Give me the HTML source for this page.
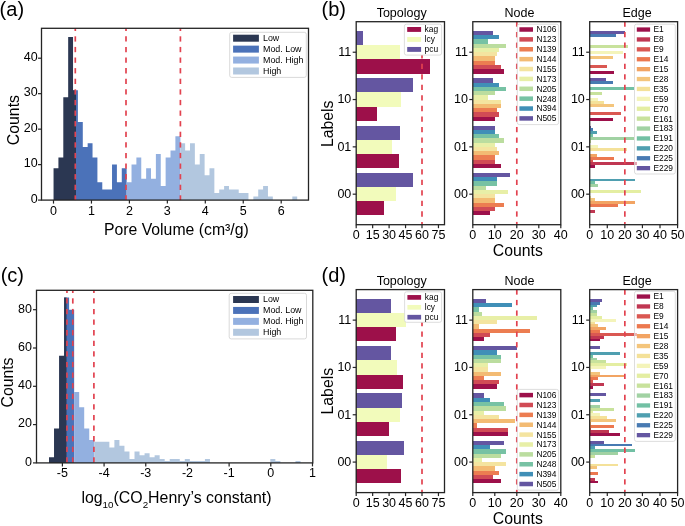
<!DOCTYPE html>
<html><head><meta charset="utf-8"><title>Figure</title>
<style>
html,body{margin:0;padding:0;background:#fff;}
svg{display:block;will-change:transform;filter:blur(0.3px);}
text{font-family:"Liberation Sans", sans-serif;}
</style></head>
<body>
<svg width="685" height="526" viewBox="0 0 685 526" font-family='"Liberation Sans", sans-serif'>
<rect x="0" y="0" width="685" height="526" fill="#fff"/>
<path d="M73.04,200.1 L73.04,90.13 L77.91,90.13 L77.91,122.05 L82.79,122.05 L82.79,146.89 L87.66,146.89 L87.66,143.34 L92.53,143.34 L92.53,157.53 L97.41,157.53 L97.41,182.36 L102.28,182.36 L102.28,189.46 L107.15,189.46 L107.15,189.46 L112.03,189.46 L112.03,164.62 L116.9,164.62 L116.9,182.36 L121.77,182.36 L121.77,168.17 L126.64,168.17 L126.64,200.1 Z" fill="#4b72b9"/>
<path d="M53.55,200.1 L53.55,168.17 L58.42,168.17 L58.42,157.53 L63.3,157.53 L63.3,97.22 L68.17,97.22 L68.17,36.91 L73.04,36.91 L73.04,90.13 L76,90.13 L76,200.1 Z" fill="#2b3752"/>
<path d="M126.64,200.1 L126.64,182.36 L131.52,182.36 L131.52,164.62 L136.39,164.62 L136.39,157.53 L141.26,157.53 L141.26,178.81 L146.14,178.81 L146.14,168.17 L151.01,168.17 L151.01,178.81 L155.88,178.81 L155.88,153.98 L160.76,153.98 L160.76,185.91 L165.63,185.91 L165.63,157.53 L170.5,157.53 L170.5,150.44 L175.38,150.44 L175.38,136.25 L180.4,136.25 L180.4,200.1 Z" fill="#93b0e0"/>
<path d="M180.4,200.1 L180.4,143.34 L185.12,143.34 L185.12,150.44 L189.99,150.44 L189.99,143.34 L194.87,143.34 L194.87,164.62 L199.74,164.62 L199.74,153.98 L204.61,153.98 L204.61,175.27 L209.49,175.27 L209.49,168.17 L214.36,168.17 L214.36,193 L219.23,193 L219.23,189.46 L224.11,189.46 L224.11,185.91 L228.98,185.91 L228.98,189.46 L233.85,189.46 L233.85,189.46 L238.72,189.46 L238.72,193 L243.6,193 L243.6,193 L248.47,193 L248.47,200.1 L253.34,200.1 L253.34,196.55 L258.22,196.55 L258.22,189.46 L263.09,189.46 L263.09,185.91 L267.96,185.91 L267.96,196.55 L272.83,196.55 L272.83,200.1 L277.71,200.1 L277.71,200.1 L282.58,200.1 L282.58,200.1 L287.45,200.1 L287.45,200.1 L292.33,200.1 L292.33,196.55 L297.2,196.55 L297.2,200.1 Z" fill="#b2c7df"/>
<line x1="75.3" y1="28.3" x2="75.3" y2="31" stroke="#e2424f" stroke-width="1.7"/>
<line x1="75.3" y1="36.3" x2="75.3" y2="41.6" stroke="#e2424f" stroke-width="1.7"/>
<line x1="75.3" y1="46.9" x2="75.3" y2="52.2" stroke="#e2424f" stroke-width="1.7"/>
<line x1="75.3" y1="57.5" x2="75.3" y2="62.8" stroke="#e2424f" stroke-width="1.7"/>
<line x1="75.3" y1="68.1" x2="75.3" y2="73.4" stroke="#e2424f" stroke-width="1.7"/>
<line x1="75.3" y1="78.7" x2="75.3" y2="84" stroke="#e2424f" stroke-width="1.7"/>
<line x1="75.3" y1="89.3" x2="75.3" y2="94.6" stroke="#e2424f" stroke-width="1.7"/>
<line x1="75.3" y1="99.9" x2="75.3" y2="105.2" stroke="#e2424f" stroke-width="1.7"/>
<line x1="75.3" y1="110.5" x2="75.3" y2="115.8" stroke="#e2424f" stroke-width="1.7"/>
<line x1="75.3" y1="121.1" x2="75.3" y2="126.4" stroke="#e2424f" stroke-width="1.7"/>
<line x1="75.3" y1="131.7" x2="75.3" y2="137" stroke="#e2424f" stroke-width="1.7"/>
<line x1="75.3" y1="142.3" x2="75.3" y2="147.6" stroke="#e2424f" stroke-width="1.7"/>
<line x1="75.3" y1="152.9" x2="75.3" y2="158.2" stroke="#e2424f" stroke-width="1.7"/>
<line x1="75.3" y1="163.5" x2="75.3" y2="168.8" stroke="#e2424f" stroke-width="1.7"/>
<line x1="75.3" y1="174.1" x2="75.3" y2="179.4" stroke="#e2424f" stroke-width="1.7"/>
<line x1="75.3" y1="184.7" x2="75.3" y2="190" stroke="#e2424f" stroke-width="1.7"/>
<line x1="75.3" y1="195.3" x2="75.3" y2="200.1" stroke="#e2424f" stroke-width="1.7"/>
<line x1="126" y1="28.3" x2="126" y2="31" stroke="#e2424f" stroke-width="1.7"/>
<line x1="126" y1="36.3" x2="126" y2="41.6" stroke="#e2424f" stroke-width="1.7"/>
<line x1="126" y1="46.9" x2="126" y2="52.2" stroke="#e2424f" stroke-width="1.7"/>
<line x1="126" y1="57.5" x2="126" y2="62.8" stroke="#e2424f" stroke-width="1.7"/>
<line x1="126" y1="68.1" x2="126" y2="73.4" stroke="#e2424f" stroke-width="1.7"/>
<line x1="126" y1="78.7" x2="126" y2="84" stroke="#e2424f" stroke-width="1.7"/>
<line x1="126" y1="89.3" x2="126" y2="94.6" stroke="#e2424f" stroke-width="1.7"/>
<line x1="126" y1="99.9" x2="126" y2="105.2" stroke="#e2424f" stroke-width="1.7"/>
<line x1="126" y1="110.5" x2="126" y2="115.8" stroke="#e2424f" stroke-width="1.7"/>
<line x1="126" y1="121.1" x2="126" y2="126.4" stroke="#e2424f" stroke-width="1.7"/>
<line x1="126" y1="131.7" x2="126" y2="137" stroke="#e2424f" stroke-width="1.7"/>
<line x1="126" y1="142.3" x2="126" y2="147.6" stroke="#e2424f" stroke-width="1.7"/>
<line x1="126" y1="152.9" x2="126" y2="158.2" stroke="#e2424f" stroke-width="1.7"/>
<line x1="126" y1="163.5" x2="126" y2="168.8" stroke="#e2424f" stroke-width="1.7"/>
<line x1="126" y1="174.1" x2="126" y2="179.4" stroke="#e2424f" stroke-width="1.7"/>
<line x1="126" y1="184.7" x2="126" y2="190" stroke="#e2424f" stroke-width="1.7"/>
<line x1="126" y1="195.3" x2="126" y2="200.1" stroke="#e2424f" stroke-width="1.7"/>
<line x1="180.4" y1="28.3" x2="180.4" y2="31" stroke="#e2424f" stroke-width="1.7"/>
<line x1="180.4" y1="36.3" x2="180.4" y2="41.6" stroke="#e2424f" stroke-width="1.7"/>
<line x1="180.4" y1="46.9" x2="180.4" y2="52.2" stroke="#e2424f" stroke-width="1.7"/>
<line x1="180.4" y1="57.5" x2="180.4" y2="62.8" stroke="#e2424f" stroke-width="1.7"/>
<line x1="180.4" y1="68.1" x2="180.4" y2="73.4" stroke="#e2424f" stroke-width="1.7"/>
<line x1="180.4" y1="78.7" x2="180.4" y2="84" stroke="#e2424f" stroke-width="1.7"/>
<line x1="180.4" y1="89.3" x2="180.4" y2="94.6" stroke="#e2424f" stroke-width="1.7"/>
<line x1="180.4" y1="99.9" x2="180.4" y2="105.2" stroke="#e2424f" stroke-width="1.7"/>
<line x1="180.4" y1="110.5" x2="180.4" y2="115.8" stroke="#e2424f" stroke-width="1.7"/>
<line x1="180.4" y1="121.1" x2="180.4" y2="126.4" stroke="#e2424f" stroke-width="1.7"/>
<line x1="180.4" y1="131.7" x2="180.4" y2="137" stroke="#e2424f" stroke-width="1.7"/>
<line x1="180.4" y1="142.3" x2="180.4" y2="147.6" stroke="#e2424f" stroke-width="1.7"/>
<line x1="180.4" y1="152.9" x2="180.4" y2="158.2" stroke="#e2424f" stroke-width="1.7"/>
<line x1="180.4" y1="163.5" x2="180.4" y2="168.8" stroke="#e2424f" stroke-width="1.7"/>
<line x1="180.4" y1="174.1" x2="180.4" y2="179.4" stroke="#e2424f" stroke-width="1.7"/>
<line x1="180.4" y1="184.7" x2="180.4" y2="190" stroke="#e2424f" stroke-width="1.7"/>
<line x1="180.4" y1="195.3" x2="180.4" y2="200.1" stroke="#e2424f" stroke-width="1.7"/>
<rect x="41.5" y="28.3" width="267" height="171.8" fill="none" stroke="#242424" stroke-width="1.3"/>
<line x1="53.5" y1="200.1" x2="53.5" y2="203.6" stroke="#242424" stroke-width="1.2"/>
<text x="53.5" y="215" font-size="12.5" text-anchor="middle" fill="#000">0</text>
<line x1="91.45" y1="200.1" x2="91.45" y2="203.6" stroke="#242424" stroke-width="1.2"/>
<text x="91.45" y="215" font-size="12.5" text-anchor="middle" fill="#000">1</text>
<line x1="129.4" y1="200.1" x2="129.4" y2="203.6" stroke="#242424" stroke-width="1.2"/>
<text x="129.4" y="215" font-size="12.5" text-anchor="middle" fill="#000">2</text>
<line x1="167.35" y1="200.1" x2="167.35" y2="203.6" stroke="#242424" stroke-width="1.2"/>
<text x="167.35" y="215" font-size="12.5" text-anchor="middle" fill="#000">3</text>
<line x1="205.3" y1="200.1" x2="205.3" y2="203.6" stroke="#242424" stroke-width="1.2"/>
<text x="205.3" y="215" font-size="12.5" text-anchor="middle" fill="#000">4</text>
<line x1="243.25" y1="200.1" x2="243.25" y2="203.6" stroke="#242424" stroke-width="1.2"/>
<text x="243.25" y="215" font-size="12.5" text-anchor="middle" fill="#000">5</text>
<line x1="281.2" y1="200.1" x2="281.2" y2="203.6" stroke="#242424" stroke-width="1.2"/>
<text x="281.2" y="215" font-size="12.5" text-anchor="middle" fill="#000">6</text>
<line x1="38" y1="200.1" x2="41.5" y2="200.1" stroke="#242424" stroke-width="1.2"/>
<text x="37.6" y="202.9" font-size="12.5" text-anchor="end" fill="#000">0</text>
<line x1="38" y1="164.62" x2="41.5" y2="164.62" stroke="#242424" stroke-width="1.2"/>
<text x="37.6" y="167.43" font-size="12.5" text-anchor="end" fill="#000">10</text>
<line x1="38" y1="129.15" x2="41.5" y2="129.15" stroke="#242424" stroke-width="1.2"/>
<text x="37.6" y="131.95" font-size="12.5" text-anchor="end" fill="#000">20</text>
<line x1="38" y1="93.67" x2="41.5" y2="93.67" stroke="#242424" stroke-width="1.2"/>
<text x="37.6" y="96.47" font-size="12.5" text-anchor="end" fill="#000">30</text>
<line x1="38" y1="58.2" x2="41.5" y2="58.2" stroke="#242424" stroke-width="1.2"/>
<text x="37.6" y="61" font-size="12.5" text-anchor="end" fill="#000">40</text>
<text x="176.35" y="234.6" font-size="15.8" text-anchor="middle" fill="#000">Pore Volume (cm³/g)</text>
<text transform="translate(18.6,120.1) rotate(-90)" font-size="15.8" text-anchor="middle" fill="#000">Counts</text>
<text x="-0.4" y="16.4" font-size="20" text-anchor="start" fill="#000">(a)</text>
<rect x="229.7" y="32.3" width="76.6" height="45.1" rx="2" fill="#fff" fill-opacity="0.8" stroke="#cfcfcf" stroke-width="0.8"/>
<rect x="233.1" y="34.7" width="25.8" height="7" fill="#2b3752"/>
<text x="263" y="41.1" font-size="8.9" text-anchor="start" fill="#000">Low</text>
<rect x="233.1" y="45.63" width="25.8" height="7" fill="#4b72b9"/>
<text x="263" y="52.03" font-size="8.9" text-anchor="start" fill="#000">Mod. Low</text>
<rect x="233.1" y="56.56" width="25.8" height="7" fill="#93b0e0"/>
<text x="263" y="62.96" font-size="8.9" text-anchor="start" fill="#000">Mod. High</text>
<rect x="233.1" y="67.49" width="25.8" height="7" fill="#b2c7df"/>
<text x="263" y="73.89" font-size="8.9" text-anchor="start" fill="#000">High</text>
<path d="M64.09,462.9 L64.09,297.44 L69.12,297.44 L69.12,309.7 L74.15,309.7 L74.15,462.9 Z" fill="#4b72b9"/>
<path d="M49,462.9 L49,457.15 L54.03,457.15 L54.03,428.43 L59.06,428.43 L59.06,355.66 L64.09,355.66 L64.09,297.44 L66.5,297.44 L66.5,462.9 Z" fill="#2b3752"/>
<path d="M74.15,462.9 L74.15,392.04 L79.18,392.04 L79.18,407.36 L84.21,407.36 L84.21,428.43 L89.24,428.43 L89.24,439.92 L94.27,439.92 L94.27,462.9 Z" fill="#93b0e0"/>
<path d="M94.27,462.9 L94.27,441.83 L99.3,441.83 L99.3,441.83 L104.33,441.83 L104.33,441.83 L109.36,441.83 L109.36,447.58 L114.39,447.58 L114.39,439.92 L119.42,439.92 L119.42,445.66 L124.45,445.66 L124.45,451.41 L129.48,451.41 L129.48,459.07 L134.51,459.07 L134.51,451.41 L139.54,451.41 L139.54,455.24 L144.57,455.24 L144.57,453.32 L149.6,453.32 L149.6,457.15 L154.63,457.15 L154.63,455.24 L159.66,455.24 L159.66,459.07 L164.69,459.07 L164.69,460.98 L169.72,460.98 L169.72,459.07 L174.75,459.07 L174.75,459.07 L179.78,459.07 L179.78,460.98 L184.81,460.98 L184.81,459.07 L189.84,459.07 L189.84,460.98 L194.87,460.98 L194.87,460.98 L199.9,460.98 L199.9,460.98 L204.93,460.98 L204.93,459.07 L209.96,459.07 L209.96,462.9 L214.99,462.9 L214.99,462.9 L220.02,462.9 L220.02,462.9 L225.05,462.9 L225.05,462.9 L230.08,462.9 L230.08,462.9 L235.11,462.9 L235.11,462.9 L240.14,462.9 L240.14,462.9 L245.17,462.9 L245.17,462.9 L250.2,462.9 L250.2,462.9 L255.23,462.9 L255.23,462.9 L260.26,462.9 L260.26,462.9 L265.29,462.9 L265.29,462.9 L270.32,462.9 L270.32,459.07 L275.35,459.07 L275.35,460.98 L280.38,460.98 L280.38,462.9 L285.41,462.9 L285.41,462.9 L290.44,462.9 L290.44,462.9 L295.47,462.9 L295.47,460.98 L300.5,460.98 L300.5,462.9 Z" fill="#b2c7df"/>
<line x1="66.95" y1="290.3" x2="66.95" y2="293" stroke="#e2424f" stroke-width="1.7"/>
<line x1="66.95" y1="298.3" x2="66.95" y2="303.6" stroke="#e2424f" stroke-width="1.7"/>
<line x1="66.95" y1="308.9" x2="66.95" y2="314.2" stroke="#e2424f" stroke-width="1.7"/>
<line x1="66.95" y1="319.5" x2="66.95" y2="324.8" stroke="#e2424f" stroke-width="1.7"/>
<line x1="66.95" y1="330.1" x2="66.95" y2="335.4" stroke="#e2424f" stroke-width="1.7"/>
<line x1="66.95" y1="340.7" x2="66.95" y2="346" stroke="#e2424f" stroke-width="1.7"/>
<line x1="66.95" y1="351.3" x2="66.95" y2="356.6" stroke="#e2424f" stroke-width="1.7"/>
<line x1="66.95" y1="361.9" x2="66.95" y2="367.2" stroke="#e2424f" stroke-width="1.7"/>
<line x1="66.95" y1="372.5" x2="66.95" y2="377.8" stroke="#e2424f" stroke-width="1.7"/>
<line x1="66.95" y1="383.1" x2="66.95" y2="388.4" stroke="#e2424f" stroke-width="1.7"/>
<line x1="66.95" y1="393.7" x2="66.95" y2="399" stroke="#e2424f" stroke-width="1.7"/>
<line x1="66.95" y1="404.3" x2="66.95" y2="409.6" stroke="#e2424f" stroke-width="1.7"/>
<line x1="66.95" y1="414.9" x2="66.95" y2="420.2" stroke="#e2424f" stroke-width="1.7"/>
<line x1="66.95" y1="425.5" x2="66.95" y2="430.8" stroke="#e2424f" stroke-width="1.7"/>
<line x1="66.95" y1="436.1" x2="66.95" y2="441.4" stroke="#e2424f" stroke-width="1.7"/>
<line x1="66.95" y1="446.7" x2="66.95" y2="452" stroke="#e2424f" stroke-width="1.7"/>
<line x1="66.95" y1="457.3" x2="66.95" y2="462.6" stroke="#e2424f" stroke-width="1.7"/>
<line x1="72.8" y1="290.3" x2="72.8" y2="293" stroke="#e2424f" stroke-width="1.7"/>
<line x1="72.8" y1="298.3" x2="72.8" y2="303.6" stroke="#e2424f" stroke-width="1.7"/>
<line x1="72.8" y1="308.9" x2="72.8" y2="314.2" stroke="#e2424f" stroke-width="1.7"/>
<line x1="72.8" y1="319.5" x2="72.8" y2="324.8" stroke="#e2424f" stroke-width="1.7"/>
<line x1="72.8" y1="330.1" x2="72.8" y2="335.4" stroke="#e2424f" stroke-width="1.7"/>
<line x1="72.8" y1="340.7" x2="72.8" y2="346" stroke="#e2424f" stroke-width="1.7"/>
<line x1="72.8" y1="351.3" x2="72.8" y2="356.6" stroke="#e2424f" stroke-width="1.7"/>
<line x1="72.8" y1="361.9" x2="72.8" y2="367.2" stroke="#e2424f" stroke-width="1.7"/>
<line x1="72.8" y1="372.5" x2="72.8" y2="377.8" stroke="#e2424f" stroke-width="1.7"/>
<line x1="72.8" y1="383.1" x2="72.8" y2="388.4" stroke="#e2424f" stroke-width="1.7"/>
<line x1="72.8" y1="393.7" x2="72.8" y2="399" stroke="#e2424f" stroke-width="1.7"/>
<line x1="72.8" y1="404.3" x2="72.8" y2="409.6" stroke="#e2424f" stroke-width="1.7"/>
<line x1="72.8" y1="414.9" x2="72.8" y2="420.2" stroke="#e2424f" stroke-width="1.7"/>
<line x1="72.8" y1="425.5" x2="72.8" y2="430.8" stroke="#e2424f" stroke-width="1.7"/>
<line x1="72.8" y1="436.1" x2="72.8" y2="441.4" stroke="#e2424f" stroke-width="1.7"/>
<line x1="72.8" y1="446.7" x2="72.8" y2="452" stroke="#e2424f" stroke-width="1.7"/>
<line x1="72.8" y1="457.3" x2="72.8" y2="462.6" stroke="#e2424f" stroke-width="1.7"/>
<line x1="93.9" y1="290.3" x2="93.9" y2="293" stroke="#e2424f" stroke-width="1.7"/>
<line x1="93.9" y1="298.3" x2="93.9" y2="303.6" stroke="#e2424f" stroke-width="1.7"/>
<line x1="93.9" y1="308.9" x2="93.9" y2="314.2" stroke="#e2424f" stroke-width="1.7"/>
<line x1="93.9" y1="319.5" x2="93.9" y2="324.8" stroke="#e2424f" stroke-width="1.7"/>
<line x1="93.9" y1="330.1" x2="93.9" y2="335.4" stroke="#e2424f" stroke-width="1.7"/>
<line x1="93.9" y1="340.7" x2="93.9" y2="346" stroke="#e2424f" stroke-width="1.7"/>
<line x1="93.9" y1="351.3" x2="93.9" y2="356.6" stroke="#e2424f" stroke-width="1.7"/>
<line x1="93.9" y1="361.9" x2="93.9" y2="367.2" stroke="#e2424f" stroke-width="1.7"/>
<line x1="93.9" y1="372.5" x2="93.9" y2="377.8" stroke="#e2424f" stroke-width="1.7"/>
<line x1="93.9" y1="383.1" x2="93.9" y2="388.4" stroke="#e2424f" stroke-width="1.7"/>
<line x1="93.9" y1="393.7" x2="93.9" y2="399" stroke="#e2424f" stroke-width="1.7"/>
<line x1="93.9" y1="404.3" x2="93.9" y2="409.6" stroke="#e2424f" stroke-width="1.7"/>
<line x1="93.9" y1="414.9" x2="93.9" y2="420.2" stroke="#e2424f" stroke-width="1.7"/>
<line x1="93.9" y1="425.5" x2="93.9" y2="430.8" stroke="#e2424f" stroke-width="1.7"/>
<line x1="93.9" y1="436.1" x2="93.9" y2="441.4" stroke="#e2424f" stroke-width="1.7"/>
<line x1="93.9" y1="446.7" x2="93.9" y2="452" stroke="#e2424f" stroke-width="1.7"/>
<line x1="93.9" y1="457.3" x2="93.9" y2="462.6" stroke="#e2424f" stroke-width="1.7"/>
<rect x="36.5" y="290.3" width="276.3" height="172.6" fill="none" stroke="#242424" stroke-width="1.3"/>
<line x1="62.4" y1="462.9" x2="62.4" y2="466.4" stroke="#242424" stroke-width="1.2"/>
<text x="62.4" y="477" font-size="12.5" text-anchor="middle" fill="#000">-5</text>
<line x1="104.08" y1="462.9" x2="104.08" y2="466.4" stroke="#242424" stroke-width="1.2"/>
<text x="104.08" y="477" font-size="12.5" text-anchor="middle" fill="#000">-4</text>
<line x1="145.76" y1="462.9" x2="145.76" y2="466.4" stroke="#242424" stroke-width="1.2"/>
<text x="145.76" y="477" font-size="12.5" text-anchor="middle" fill="#000">-3</text>
<line x1="187.44" y1="462.9" x2="187.44" y2="466.4" stroke="#242424" stroke-width="1.2"/>
<text x="187.44" y="477" font-size="12.5" text-anchor="middle" fill="#000">-2</text>
<line x1="229.12" y1="462.9" x2="229.12" y2="466.4" stroke="#242424" stroke-width="1.2"/>
<text x="229.12" y="477" font-size="12.5" text-anchor="middle" fill="#000">-1</text>
<line x1="270.8" y1="462.9" x2="270.8" y2="466.4" stroke="#242424" stroke-width="1.2"/>
<text x="270.8" y="477" font-size="12.5" text-anchor="middle" fill="#000">0</text>
<line x1="312.48" y1="462.9" x2="312.48" y2="466.4" stroke="#242424" stroke-width="1.2"/>
<text x="312.48" y="477" font-size="12.5" text-anchor="middle" fill="#000">1</text>
<line x1="33" y1="462.9" x2="36.5" y2="462.9" stroke="#242424" stroke-width="1.2"/>
<text x="31.9" y="465.7" font-size="12.5" text-anchor="end" fill="#000">0</text>
<line x1="33" y1="424.6" x2="36.5" y2="424.6" stroke="#242424" stroke-width="1.2"/>
<text x="31.9" y="427.4" font-size="12.5" text-anchor="end" fill="#000">20</text>
<line x1="33" y1="386.3" x2="36.5" y2="386.3" stroke="#242424" stroke-width="1.2"/>
<text x="31.9" y="389.1" font-size="12.5" text-anchor="end" fill="#000">40</text>
<line x1="33" y1="348" x2="36.5" y2="348" stroke="#242424" stroke-width="1.2"/>
<text x="31.9" y="350.8" font-size="12.5" text-anchor="end" fill="#000">60</text>
<line x1="33" y1="309.7" x2="36.5" y2="309.7" stroke="#242424" stroke-width="1.2"/>
<text x="31.9" y="312.5" font-size="12.5" text-anchor="end" fill="#000">80</text>
<text x="81.4" y="502.9" font-size="15.9" fill="#000">log<tspan font-size="9.8" dy="5">10</tspan><tspan dy="-5">(CO</tspan><tspan font-size="9.8" dy="5">2</tspan><tspan dy="-5">Henry’s constant)</tspan></text>
<text transform="translate(12.8,382.5) rotate(-90)" font-size="15.8" text-anchor="middle" fill="#000">Counts</text>
<text x="0.7" y="281.7" font-size="20" text-anchor="start" fill="#000">(c)</text>
<rect x="229.2" y="293.3" width="77.3" height="45.6" rx="2" fill="#fff" fill-opacity="0.8" stroke="#cfcfcf" stroke-width="0.8"/>
<rect x="233.1" y="296" width="25.8" height="7" fill="#2b3752"/>
<text x="263" y="302.4" font-size="8.9" text-anchor="start" fill="#000">Low</text>
<rect x="233.1" y="306.93" width="25.8" height="7" fill="#4b72b9"/>
<text x="263" y="313.33" font-size="8.9" text-anchor="start" fill="#000">Mod. Low</text>
<rect x="233.1" y="317.86" width="25.8" height="7" fill="#93b0e0"/>
<text x="263" y="324.26" font-size="8.9" text-anchor="start" fill="#000">Mod. High</text>
<rect x="233.1" y="328.79" width="25.8" height="7" fill="#b2c7df"/>
<text x="263" y="335.19" font-size="8.9" text-anchor="start" fill="#000">High</text>
<rect x="356.2" y="201.28" width="27.42" height="14.2" fill="#9d104a" shape-rendering="crispEdges"/>
<rect x="356.2" y="187.08" width="39.48" height="14.2" fill="#f2fbbb" shape-rendering="crispEdges"/>
<rect x="356.2" y="172.89" width="57.03" height="14.2" fill="#6456a1" shape-rendering="crispEdges"/>
<rect x="356.2" y="153.96" width="42.77" height="14.2" fill="#9d104a" shape-rendering="crispEdges"/>
<rect x="356.2" y="139.76" width="36.19" height="14.2" fill="#f2fbbb" shape-rendering="crispEdges"/>
<rect x="356.2" y="125.57" width="43.87" height="14.2" fill="#6456a1" shape-rendering="crispEdges"/>
<rect x="356.2" y="106.64" width="20.84" height="14.2" fill="#9d104a" shape-rendering="crispEdges"/>
<rect x="356.2" y="92.44" width="44.96" height="14.2" fill="#f2fbbb" shape-rendering="crispEdges"/>
<rect x="356.2" y="78.25" width="57.03" height="14.2" fill="#6456a1" shape-rendering="crispEdges"/>
<rect x="356.2" y="59.32" width="73.48" height="14.2" fill="#9d104a" shape-rendering="crispEdges"/>
<rect x="356.2" y="45.12" width="43.87" height="14.2" fill="#f2fbbb" shape-rendering="crispEdges"/>
<rect x="356.2" y="30.93" width="6.58" height="14.2" fill="#6456a1" shape-rendering="crispEdges"/>
<line x1="422" y1="32" x2="422" y2="37.3" stroke="#e2424f" stroke-width="1.7"/>
<line x1="422" y1="42.55" x2="422" y2="47.85" stroke="#e2424f" stroke-width="1.7"/>
<line x1="422" y1="53.1" x2="422" y2="58.4" stroke="#e2424f" stroke-width="1.7"/>
<line x1="422" y1="63.65" x2="422" y2="68.95" stroke="#e2424f" stroke-width="1.7"/>
<line x1="422" y1="74.2" x2="422" y2="79.5" stroke="#e2424f" stroke-width="1.7"/>
<line x1="422" y1="84.75" x2="422" y2="90.05" stroke="#e2424f" stroke-width="1.7"/>
<line x1="422" y1="95.3" x2="422" y2="100.6" stroke="#e2424f" stroke-width="1.7"/>
<line x1="422" y1="105.85" x2="422" y2="111.15" stroke="#e2424f" stroke-width="1.7"/>
<line x1="422" y1="116.4" x2="422" y2="121.7" stroke="#e2424f" stroke-width="1.7"/>
<line x1="422" y1="126.95" x2="422" y2="132.25" stroke="#e2424f" stroke-width="1.7"/>
<line x1="422" y1="137.5" x2="422" y2="142.8" stroke="#e2424f" stroke-width="1.7"/>
<line x1="422" y1="148.05" x2="422" y2="153.35" stroke="#e2424f" stroke-width="1.7"/>
<line x1="422" y1="158.6" x2="422" y2="163.9" stroke="#e2424f" stroke-width="1.7"/>
<line x1="422" y1="169.15" x2="422" y2="174.45" stroke="#e2424f" stroke-width="1.7"/>
<line x1="422" y1="179.7" x2="422" y2="185" stroke="#e2424f" stroke-width="1.7"/>
<line x1="422" y1="190.25" x2="422" y2="195.55" stroke="#e2424f" stroke-width="1.7"/>
<line x1="422" y1="200.8" x2="422" y2="206.1" stroke="#e2424f" stroke-width="1.7"/>
<line x1="422" y1="211.35" x2="422" y2="216.65" stroke="#e2424f" stroke-width="1.7"/>
<line x1="422" y1="221.9" x2="422" y2="224.7" stroke="#e2424f" stroke-width="1.7"/>
<rect x="472.8" y="211.21" width="17.6" height="4.26" fill="#9d104a" shape-rendering="crispEdges"/>
<rect x="472.8" y="206.96" width="22" height="4.26" fill="#d14b55" shape-rendering="crispEdges"/>
<rect x="472.8" y="202.7" width="30.8" height="4.26" fill="#ec7d51" shape-rendering="crispEdges"/>
<rect x="472.8" y="198.44" width="22" height="4.26" fill="#f3bb73" shape-rendering="crispEdges"/>
<rect x="472.8" y="194.18" width="22" height="4.26" fill="#f4e4a0" shape-rendering="crispEdges"/>
<rect x="472.8" y="189.92" width="35.2" height="4.26" fill="#e8efa7" shape-rendering="crispEdges"/>
<rect x="472.8" y="185.66" width="13.2" height="4.26" fill="#bbdd9f" shape-rendering="crispEdges"/>
<rect x="472.8" y="181.4" width="24.2" height="4.26" fill="#77c2a4" shape-rendering="crispEdges"/>
<rect x="472.8" y="177.14" width="24.2" height="4.26" fill="#408fb7" shape-rendering="crispEdges"/>
<rect x="472.8" y="172.89" width="37.4" height="4.26" fill="#6456a1" shape-rendering="crispEdges"/>
<rect x="472.8" y="163.89" width="28.6" height="4.26" fill="#9d104a" shape-rendering="crispEdges"/>
<rect x="472.8" y="159.64" width="22" height="4.26" fill="#d14b55" shape-rendering="crispEdges"/>
<rect x="472.8" y="155.38" width="22" height="4.26" fill="#ec7d51" shape-rendering="crispEdges"/>
<rect x="472.8" y="151.12" width="26.4" height="4.26" fill="#f3bb73" shape-rendering="crispEdges"/>
<rect x="472.8" y="146.86" width="24.2" height="4.26" fill="#f4e4a0" shape-rendering="crispEdges"/>
<rect x="472.8" y="142.6" width="22" height="4.26" fill="#e8efa7" shape-rendering="crispEdges"/>
<rect x="472.8" y="138.34" width="30.8" height="4.26" fill="#bbdd9f" shape-rendering="crispEdges"/>
<rect x="472.8" y="134.08" width="26.4" height="4.26" fill="#77c2a4" shape-rendering="crispEdges"/>
<rect x="472.8" y="129.82" width="22" height="4.26" fill="#408fb7" shape-rendering="crispEdges"/>
<rect x="472.8" y="125.57" width="22" height="4.26" fill="#6456a1" shape-rendering="crispEdges"/>
<rect x="472.8" y="116.58" width="22" height="4.26" fill="#9d104a" shape-rendering="crispEdges"/>
<rect x="472.8" y="112.32" width="26.4" height="4.26" fill="#d14b55" shape-rendering="crispEdges"/>
<rect x="472.8" y="108.06" width="24.2" height="4.26" fill="#ec7d51" shape-rendering="crispEdges"/>
<rect x="472.8" y="103.8" width="28.6" height="4.26" fill="#f3bb73" shape-rendering="crispEdges"/>
<rect x="472.8" y="99.54" width="28.6" height="4.26" fill="#f4e4a0" shape-rendering="crispEdges"/>
<rect x="472.8" y="95.28" width="15.4" height="4.26" fill="#e8efa7" shape-rendering="crispEdges"/>
<rect x="472.8" y="91.02" width="22" height="4.26" fill="#bbdd9f" shape-rendering="crispEdges"/>
<rect x="472.8" y="86.76" width="33" height="4.26" fill="#77c2a4" shape-rendering="crispEdges"/>
<rect x="472.8" y="82.51" width="26.4" height="4.26" fill="#408fb7" shape-rendering="crispEdges"/>
<rect x="472.8" y="78.25" width="19.8" height="4.26" fill="#6456a1" shape-rendering="crispEdges"/>
<rect x="472.8" y="69.26" width="30.8" height="4.26" fill="#9d104a" shape-rendering="crispEdges"/>
<rect x="472.8" y="65" width="28.6" height="4.26" fill="#d14b55" shape-rendering="crispEdges"/>
<rect x="472.8" y="60.74" width="22" height="4.26" fill="#ec7d51" shape-rendering="crispEdges"/>
<rect x="472.8" y="56.48" width="22" height="4.26" fill="#f3bb73" shape-rendering="crispEdges"/>
<rect x="472.8" y="52.22" width="24.2" height="4.26" fill="#f4e4a0" shape-rendering="crispEdges"/>
<rect x="472.8" y="47.96" width="26.4" height="4.26" fill="#e8efa7" shape-rendering="crispEdges"/>
<rect x="472.8" y="43.7" width="33" height="4.26" fill="#bbdd9f" shape-rendering="crispEdges"/>
<rect x="472.8" y="39.44" width="15.4" height="4.26" fill="#77c2a4" shape-rendering="crispEdges"/>
<rect x="472.8" y="35.19" width="26.4" height="4.26" fill="#408fb7" shape-rendering="crispEdges"/>
<rect x="472.8" y="30.93" width="19.8" height="4.26" fill="#6456a1" shape-rendering="crispEdges"/>
<line x1="516.8" y1="21.7" x2="516.8" y2="26.75" stroke="#e2424f" stroke-width="1.7"/>
<line x1="516.8" y1="32" x2="516.8" y2="37.3" stroke="#e2424f" stroke-width="1.7"/>
<line x1="516.8" y1="42.55" x2="516.8" y2="47.85" stroke="#e2424f" stroke-width="1.7"/>
<line x1="516.8" y1="53.1" x2="516.8" y2="58.4" stroke="#e2424f" stroke-width="1.7"/>
<line x1="516.8" y1="63.65" x2="516.8" y2="68.95" stroke="#e2424f" stroke-width="1.7"/>
<line x1="516.8" y1="74.2" x2="516.8" y2="79.5" stroke="#e2424f" stroke-width="1.7"/>
<line x1="516.8" y1="84.75" x2="516.8" y2="90.05" stroke="#e2424f" stroke-width="1.7"/>
<line x1="516.8" y1="95.3" x2="516.8" y2="100.6" stroke="#e2424f" stroke-width="1.7"/>
<line x1="516.8" y1="105.85" x2="516.8" y2="111.15" stroke="#e2424f" stroke-width="1.7"/>
<line x1="516.8" y1="116.4" x2="516.8" y2="121.7" stroke="#e2424f" stroke-width="1.7"/>
<line x1="516.8" y1="126.95" x2="516.8" y2="132.25" stroke="#e2424f" stroke-width="1.7"/>
<line x1="516.8" y1="137.5" x2="516.8" y2="142.8" stroke="#e2424f" stroke-width="1.7"/>
<line x1="516.8" y1="148.05" x2="516.8" y2="153.35" stroke="#e2424f" stroke-width="1.7"/>
<line x1="516.8" y1="158.6" x2="516.8" y2="163.9" stroke="#e2424f" stroke-width="1.7"/>
<line x1="516.8" y1="169.15" x2="516.8" y2="174.45" stroke="#e2424f" stroke-width="1.7"/>
<line x1="516.8" y1="179.7" x2="516.8" y2="185" stroke="#e2424f" stroke-width="1.7"/>
<line x1="516.8" y1="190.25" x2="516.8" y2="195.55" stroke="#e2424f" stroke-width="1.7"/>
<line x1="516.8" y1="200.8" x2="516.8" y2="206.1" stroke="#e2424f" stroke-width="1.7"/>
<line x1="516.8" y1="211.35" x2="516.8" y2="216.65" stroke="#e2424f" stroke-width="1.7"/>
<line x1="516.8" y1="221.9" x2="516.8" y2="224.7" stroke="#e2424f" stroke-width="1.7"/>
<rect x="589.7" y="209.79" width="5.27" height="2.84" fill="#c03752" shape-rendering="crispEdges"/>
<rect x="589.7" y="204.12" width="28.12" height="2.84" fill="#ec784f" shape-rendering="crispEdges"/>
<rect x="589.7" y="201.28" width="45.7" height="2.84" fill="#f2a463" shape-rendering="crispEdges"/>
<rect x="589.7" y="198.44" width="5.27" height="2.84" fill="#f4c57c" shape-rendering="crispEdges"/>
<rect x="589.7" y="195.6" width="1.76" height="2.84" fill="#f4e199" shape-rendering="crispEdges"/>
<rect x="589.7" y="189.92" width="50.97" height="2.84" fill="#e4eea2" shape-rendering="crispEdges"/>
<rect x="589.7" y="184.24" width="8.79" height="2.84" fill="#a1d2a3" shape-rendering="crispEdges"/>
<rect x="589.7" y="181.4" width="5.27" height="2.84" fill="#72c0a4" shape-rendering="crispEdges"/>
<rect x="589.7" y="178.56" width="45.7" height="2.84" fill="#4f9fb0" shape-rendering="crispEdges"/>
<rect x="589.7" y="165.31" width="5.27" height="2.84" fill="#9d104a" shape-rendering="crispEdges"/>
<rect x="589.7" y="162.48" width="47.45" height="2.84" fill="#c03752" shape-rendering="crispEdges"/>
<rect x="589.7" y="159.64" width="3.51" height="2.84" fill="#da5852" shape-rendering="crispEdges"/>
<rect x="589.7" y="156.8" width="24.61" height="2.84" fill="#ec784f" shape-rendering="crispEdges"/>
<rect x="589.7" y="153.96" width="7.03" height="2.84" fill="#f2a463" shape-rendering="crispEdges"/>
<rect x="589.7" y="148.28" width="36.91" height="2.84" fill="#f4e199" shape-rendering="crispEdges"/>
<rect x="589.7" y="145.44" width="8.79" height="2.84" fill="#f4f4ba" shape-rendering="crispEdges"/>
<rect x="589.7" y="139.76" width="1.76" height="2.84" fill="#c8e29c" shape-rendering="crispEdges"/>
<rect x="589.7" y="136.92" width="43.94" height="2.84" fill="#a1d2a3" shape-rendering="crispEdges"/>
<rect x="589.7" y="134.08" width="3.51" height="2.84" fill="#72c0a4" shape-rendering="crispEdges"/>
<rect x="589.7" y="131.24" width="7.03" height="2.84" fill="#4f9fb0" shape-rendering="crispEdges"/>
<rect x="589.7" y="128.41" width="3.51" height="2.84" fill="#487ab2" shape-rendering="crispEdges"/>
<rect x="589.7" y="125.57" width="1.76" height="2.84" fill="#6456a1" shape-rendering="crispEdges"/>
<rect x="589.7" y="117.99" width="22.85" height="2.84" fill="#9d104a" shape-rendering="crispEdges"/>
<rect x="589.7" y="112.32" width="31.63" height="2.84" fill="#da5852" shape-rendering="crispEdges"/>
<rect x="589.7" y="103.8" width="24.61" height="2.84" fill="#f4c57c" shape-rendering="crispEdges"/>
<rect x="589.7" y="100.96" width="14.06" height="2.84" fill="#f4e199" shape-rendering="crispEdges"/>
<rect x="589.7" y="98.12" width="8.79" height="2.84" fill="#f4f4ba" shape-rendering="crispEdges"/>
<rect x="589.7" y="92.44" width="12.3" height="2.84" fill="#c8e29c" shape-rendering="crispEdges"/>
<rect x="589.7" y="86.76" width="43.94" height="2.84" fill="#72c0a4" shape-rendering="crispEdges"/>
<rect x="589.7" y="81.09" width="22.85" height="2.84" fill="#487ab2" shape-rendering="crispEdges"/>
<rect x="589.7" y="78.25" width="15.82" height="2.84" fill="#6456a1" shape-rendering="crispEdges"/>
<rect x="589.7" y="70.68" width="24.61" height="2.84" fill="#9d104a" shape-rendering="crispEdges"/>
<rect x="589.7" y="65" width="17.58" height="2.84" fill="#da5852" shape-rendering="crispEdges"/>
<rect x="589.7" y="56.48" width="22.85" height="2.84" fill="#f4c57c" shape-rendering="crispEdges"/>
<rect x="589.7" y="50.8" width="33.39" height="2.84" fill="#f4f4ba" shape-rendering="crispEdges"/>
<rect x="589.7" y="45.12" width="38.66" height="2.84" fill="#c8e29c" shape-rendering="crispEdges"/>
<rect x="589.7" y="33.77" width="26.36" height="2.84" fill="#487ab2" shape-rendering="crispEdges"/>
<rect x="589.7" y="30.93" width="35.15" height="2.84" fill="#6456a1" shape-rendering="crispEdges"/>
<line x1="624.85" y1="21.7" x2="624.85" y2="26.75" stroke="#e2424f" stroke-width="1.7"/>
<line x1="624.85" y1="32" x2="624.85" y2="37.3" stroke="#e2424f" stroke-width="1.7"/>
<line x1="624.85" y1="42.55" x2="624.85" y2="47.85" stroke="#e2424f" stroke-width="1.7"/>
<line x1="624.85" y1="53.1" x2="624.85" y2="58.4" stroke="#e2424f" stroke-width="1.7"/>
<line x1="624.85" y1="63.65" x2="624.85" y2="68.95" stroke="#e2424f" stroke-width="1.7"/>
<line x1="624.85" y1="74.2" x2="624.85" y2="79.5" stroke="#e2424f" stroke-width="1.7"/>
<line x1="624.85" y1="84.75" x2="624.85" y2="90.05" stroke="#e2424f" stroke-width="1.7"/>
<line x1="624.85" y1="95.3" x2="624.85" y2="100.6" stroke="#e2424f" stroke-width="1.7"/>
<line x1="624.85" y1="105.85" x2="624.85" y2="111.15" stroke="#e2424f" stroke-width="1.7"/>
<line x1="624.85" y1="116.4" x2="624.85" y2="121.7" stroke="#e2424f" stroke-width="1.7"/>
<line x1="624.85" y1="126.95" x2="624.85" y2="132.25" stroke="#e2424f" stroke-width="1.7"/>
<line x1="624.85" y1="137.5" x2="624.85" y2="142.8" stroke="#e2424f" stroke-width="1.7"/>
<line x1="624.85" y1="148.05" x2="624.85" y2="153.35" stroke="#e2424f" stroke-width="1.7"/>
<line x1="624.85" y1="158.6" x2="624.85" y2="163.9" stroke="#e2424f" stroke-width="1.7"/>
<line x1="624.85" y1="169.15" x2="624.85" y2="174.45" stroke="#e2424f" stroke-width="1.7"/>
<line x1="624.85" y1="179.7" x2="624.85" y2="185" stroke="#e2424f" stroke-width="1.7"/>
<line x1="624.85" y1="190.25" x2="624.85" y2="195.55" stroke="#e2424f" stroke-width="1.7"/>
<line x1="624.85" y1="200.8" x2="624.85" y2="206.1" stroke="#e2424f" stroke-width="1.7"/>
<line x1="624.85" y1="211.35" x2="624.85" y2="216.65" stroke="#e2424f" stroke-width="1.7"/>
<line x1="624.85" y1="221.9" x2="624.85" y2="224.7" stroke="#e2424f" stroke-width="1.7"/>
<rect x="404.4" y="24.2" width="37.2" height="30.9" rx="2" fill="#fff" fill-opacity="1" stroke="#d4d4d4" stroke-width="0.8"/>
<rect x="407.2" y="27" width="13.9" height="4.9" fill="#9d104a"/>
<text x="424.6" y="32.35" font-size="8.4" text-anchor="start" fill="#000">kag</text>
<rect x="407.2" y="36.98" width="13.9" height="4.9" fill="#f2fbbb"/>
<text x="424.6" y="42.33" font-size="8.4" text-anchor="start" fill="#000">lcy</text>
<rect x="407.2" y="46.96" width="13.9" height="4.9" fill="#6456a1"/>
<text x="424.6" y="52.31" font-size="8.4" text-anchor="start" fill="#000">pcu</text>
<rect x="517.3" y="24.2" width="41.3" height="100.4" rx="2" fill="#fff" fill-opacity="0.55" stroke="#d4d4d4" stroke-width="0.8"/>
<rect x="519.4" y="27.25" width="13.6" height="4.5" fill="#9d104a"/>
<text x="536.4" y="32.4" font-size="8.4" text-anchor="start" fill="#000">N106</text>
<rect x="519.4" y="37.13" width="13.6" height="4.5" fill="#d14b55"/>
<text x="536.4" y="42.28" font-size="8.4" text-anchor="start" fill="#000">N123</text>
<rect x="519.4" y="47.01" width="13.6" height="4.5" fill="#ec7d51"/>
<text x="536.4" y="52.16" font-size="8.4" text-anchor="start" fill="#000">N139</text>
<rect x="519.4" y="56.89" width="13.6" height="4.5" fill="#f3bb73"/>
<text x="536.4" y="62.04" font-size="8.4" text-anchor="start" fill="#000">N144</text>
<rect x="519.4" y="66.77" width="13.6" height="4.5" fill="#f4e4a0"/>
<text x="536.4" y="71.92" font-size="8.4" text-anchor="start" fill="#000">N155</text>
<rect x="519.4" y="76.65" width="13.6" height="4.5" fill="#e8efa7"/>
<text x="536.4" y="81.8" font-size="8.4" text-anchor="start" fill="#000">N173</text>
<rect x="519.4" y="86.53" width="13.6" height="4.5" fill="#bbdd9f"/>
<text x="536.4" y="91.68" font-size="8.4" text-anchor="start" fill="#000">N205</text>
<rect x="519.4" y="96.41" width="13.6" height="4.5" fill="#77c2a4"/>
<text x="536.4" y="101.56" font-size="8.4" text-anchor="start" fill="#000">N248</text>
<rect x="519.4" y="106.29" width="13.6" height="4.5" fill="#408fb7"/>
<text x="536.4" y="111.44" font-size="8.4" text-anchor="start" fill="#000">N394</text>
<rect x="519.4" y="116.17" width="13.6" height="4.5" fill="#6456a1"/>
<text x="536.4" y="121.32" font-size="8.4" text-anchor="start" fill="#000">N505</text>
<rect x="634.5" y="24.2" width="40.8" height="149.8" rx="2" fill="#fff" fill-opacity="0.55" stroke="#d4d4d4" stroke-width="0.8"/>
<rect x="636.8" y="27.4" width="13.3" height="4.3" fill="#9d104a"/>
<text x="653.4" y="32.45" font-size="8.4" text-anchor="start" fill="#000">E1</text>
<rect x="636.8" y="37.3" width="13.3" height="4.3" fill="#c03752"/>
<text x="653.4" y="42.35" font-size="8.4" text-anchor="start" fill="#000">E8</text>
<rect x="636.8" y="47.2" width="13.3" height="4.3" fill="#da5852"/>
<text x="653.4" y="52.25" font-size="8.4" text-anchor="start" fill="#000">E9</text>
<rect x="636.8" y="57.1" width="13.3" height="4.3" fill="#ec784f"/>
<text x="653.4" y="62.15" font-size="8.4" text-anchor="start" fill="#000">E14</text>
<rect x="636.8" y="67" width="13.3" height="4.3" fill="#f2a463"/>
<text x="653.4" y="72.05" font-size="8.4" text-anchor="start" fill="#000">E15</text>
<rect x="636.8" y="76.9" width="13.3" height="4.3" fill="#f4c57c"/>
<text x="653.4" y="81.95" font-size="8.4" text-anchor="start" fill="#000">E28</text>
<rect x="636.8" y="86.8" width="13.3" height="4.3" fill="#f4e199"/>
<text x="653.4" y="91.85" font-size="8.4" text-anchor="start" fill="#000">E35</text>
<rect x="636.8" y="96.7" width="13.3" height="4.3" fill="#f4f4ba"/>
<text x="653.4" y="101.75" font-size="8.4" text-anchor="start" fill="#000">E59</text>
<rect x="636.8" y="106.6" width="13.3" height="4.3" fill="#e4eea2"/>
<text x="653.4" y="111.65" font-size="8.4" text-anchor="start" fill="#000">E70</text>
<rect x="636.8" y="116.5" width="13.3" height="4.3" fill="#c8e29c"/>
<text x="653.4" y="121.55" font-size="8.4" text-anchor="start" fill="#000">E161</text>
<rect x="636.8" y="126.4" width="13.3" height="4.3" fill="#a1d2a3"/>
<text x="653.4" y="131.45" font-size="8.4" text-anchor="start" fill="#000">E183</text>
<rect x="636.8" y="136.3" width="13.3" height="4.3" fill="#72c0a4"/>
<text x="653.4" y="141.35" font-size="8.4" text-anchor="start" fill="#000">E191</text>
<rect x="636.8" y="146.2" width="13.3" height="4.3" fill="#4f9fb0"/>
<text x="653.4" y="151.25" font-size="8.4" text-anchor="start" fill="#000">E220</text>
<rect x="636.8" y="156.1" width="13.3" height="4.3" fill="#487ab2"/>
<text x="653.4" y="161.15" font-size="8.4" text-anchor="start" fill="#000">E225</text>
<rect x="636.8" y="166" width="13.3" height="4.3" fill="#6456a1"/>
<text x="653.4" y="171.05" font-size="8.4" text-anchor="start" fill="#000">E229</text>
<rect x="356.2" y="21.7" width="88.3" height="203" fill="none" stroke="#242424" stroke-width="1.3"/>
<line x1="356.2" y1="224.7" x2="356.2" y2="228.2" stroke="#242424" stroke-width="1.2"/>
<text x="356.2" y="238.5" font-size="12.5" text-anchor="middle" fill="#000">0</text>
<line x1="372.65" y1="224.7" x2="372.65" y2="228.2" stroke="#242424" stroke-width="1.2"/>
<text x="372.65" y="238.5" font-size="12.5" text-anchor="middle" fill="#000">15</text>
<line x1="389.1" y1="224.7" x2="389.1" y2="228.2" stroke="#242424" stroke-width="1.2"/>
<text x="389.1" y="238.5" font-size="12.5" text-anchor="middle" fill="#000">30</text>
<line x1="405.55" y1="224.7" x2="405.55" y2="228.2" stroke="#242424" stroke-width="1.2"/>
<text x="405.55" y="238.5" font-size="12.5" text-anchor="middle" fill="#000">45</text>
<line x1="422" y1="224.7" x2="422" y2="228.2" stroke="#242424" stroke-width="1.2"/>
<text x="422" y="238.5" font-size="12.5" text-anchor="middle" fill="#000">60</text>
<line x1="438.45" y1="224.7" x2="438.45" y2="228.2" stroke="#242424" stroke-width="1.2"/>
<text x="438.45" y="238.5" font-size="12.5" text-anchor="middle" fill="#000">75</text>
<line x1="352.7" y1="194.18" x2="356.2" y2="194.18" stroke="#242424" stroke-width="1.2"/>
<text x="351.3" y="198.08" font-size="12.5" text-anchor="end" fill="#000">00</text>
<line x1="352.7" y1="146.86" x2="356.2" y2="146.86" stroke="#242424" stroke-width="1.2"/>
<text x="351.3" y="150.76" font-size="12.5" text-anchor="end" fill="#000">01</text>
<line x1="352.7" y1="99.54" x2="356.2" y2="99.54" stroke="#242424" stroke-width="1.2"/>
<text x="351.3" y="103.44" font-size="12.5" text-anchor="end" fill="#000">10</text>
<line x1="352.7" y1="52.22" x2="356.2" y2="52.22" stroke="#242424" stroke-width="1.2"/>
<text x="351.3" y="56.12" font-size="12.5" text-anchor="end" fill="#000">11</text>
<rect x="472.8" y="21.7" width="88" height="203" fill="none" stroke="#242424" stroke-width="1.3"/>
<line x1="472.8" y1="224.7" x2="472.8" y2="228.2" stroke="#242424" stroke-width="1.2"/>
<text x="472.8" y="238.5" font-size="12.5" text-anchor="middle" fill="#000">0</text>
<line x1="494.8" y1="224.7" x2="494.8" y2="228.2" stroke="#242424" stroke-width="1.2"/>
<text x="494.8" y="238.5" font-size="12.5" text-anchor="middle" fill="#000">10</text>
<line x1="516.8" y1="224.7" x2="516.8" y2="228.2" stroke="#242424" stroke-width="1.2"/>
<text x="516.8" y="238.5" font-size="12.5" text-anchor="middle" fill="#000">20</text>
<line x1="538.8" y1="224.7" x2="538.8" y2="228.2" stroke="#242424" stroke-width="1.2"/>
<text x="538.8" y="238.5" font-size="12.5" text-anchor="middle" fill="#000">30</text>
<line x1="560.8" y1="224.7" x2="560.8" y2="228.2" stroke="#242424" stroke-width="1.2"/>
<text x="560.8" y="238.5" font-size="12.5" text-anchor="middle" fill="#000">40</text>
<line x1="469.3" y1="194.18" x2="472.8" y2="194.18" stroke="#242424" stroke-width="1.2"/>
<text x="467.9" y="198.08" font-size="12.5" text-anchor="end" fill="#000">00</text>
<line x1="469.3" y1="146.86" x2="472.8" y2="146.86" stroke="#242424" stroke-width="1.2"/>
<text x="467.9" y="150.76" font-size="12.5" text-anchor="end" fill="#000">01</text>
<line x1="469.3" y1="99.54" x2="472.8" y2="99.54" stroke="#242424" stroke-width="1.2"/>
<text x="467.9" y="103.44" font-size="12.5" text-anchor="end" fill="#000">10</text>
<line x1="469.3" y1="52.22" x2="472.8" y2="52.22" stroke="#242424" stroke-width="1.2"/>
<text x="467.9" y="56.12" font-size="12.5" text-anchor="end" fill="#000">11</text>
<rect x="589.7" y="21.7" width="87.9" height="203" fill="none" stroke="#242424" stroke-width="1.3"/>
<line x1="589.7" y1="224.7" x2="589.7" y2="228.2" stroke="#242424" stroke-width="1.2"/>
<text x="589.7" y="238.5" font-size="12.5" text-anchor="middle" fill="#000">0</text>
<line x1="607.28" y1="224.7" x2="607.28" y2="228.2" stroke="#242424" stroke-width="1.2"/>
<text x="607.28" y="238.5" font-size="12.5" text-anchor="middle" fill="#000">10</text>
<line x1="624.85" y1="224.7" x2="624.85" y2="228.2" stroke="#242424" stroke-width="1.2"/>
<text x="624.85" y="238.5" font-size="12.5" text-anchor="middle" fill="#000">20</text>
<line x1="642.43" y1="224.7" x2="642.43" y2="228.2" stroke="#242424" stroke-width="1.2"/>
<text x="642.43" y="238.5" font-size="12.5" text-anchor="middle" fill="#000">30</text>
<line x1="660" y1="224.7" x2="660" y2="228.2" stroke="#242424" stroke-width="1.2"/>
<text x="660" y="238.5" font-size="12.5" text-anchor="middle" fill="#000">40</text>
<line x1="677.58" y1="224.7" x2="677.58" y2="228.2" stroke="#242424" stroke-width="1.2"/>
<text x="677.58" y="238.5" font-size="12.5" text-anchor="middle" fill="#000">50</text>
<line x1="586.2" y1="194.18" x2="589.7" y2="194.18" stroke="#242424" stroke-width="1.2"/>
<text x="584.8" y="198.08" font-size="12.5" text-anchor="end" fill="#000">00</text>
<line x1="586.2" y1="146.86" x2="589.7" y2="146.86" stroke="#242424" stroke-width="1.2"/>
<text x="584.8" y="150.76" font-size="12.5" text-anchor="end" fill="#000">01</text>
<line x1="586.2" y1="99.54" x2="589.7" y2="99.54" stroke="#242424" stroke-width="1.2"/>
<text x="584.8" y="103.44" font-size="12.5" text-anchor="end" fill="#000">10</text>
<line x1="586.2" y1="52.22" x2="589.7" y2="52.22" stroke="#242424" stroke-width="1.2"/>
<text x="584.8" y="56.12" font-size="12.5" text-anchor="end" fill="#000">11</text>
<text x="401.65" y="17" font-size="12.5" text-anchor="middle" fill="#000">Topology</text>
<text x="519.5" y="17" font-size="12.5" text-anchor="middle" fill="#000">Node</text>
<text x="637.1" y="17" font-size="12.5" text-anchor="middle" fill="#000">Edge</text>
<text x="517.8" y="255.7" font-size="15.8" text-anchor="middle" fill="#000">Counts</text>
<text transform="translate(333.0,123.75) rotate(-90)" font-size="15.8" text-anchor="middle" fill="#000">Labels</text>
<text x="321.5" y="16.2" font-size="20" text-anchor="start" fill="#000">(b)</text>
<rect x="356.2" y="469.18" width="44.96" height="14.2" fill="#9d104a" shape-rendering="crispEdges"/>
<rect x="356.2" y="454.98" width="30.71" height="14.2" fill="#f2fbbb" shape-rendering="crispEdges"/>
<rect x="356.2" y="440.79" width="48.25" height="14.2" fill="#6456a1" shape-rendering="crispEdges"/>
<rect x="356.2" y="421.86" width="32.9" height="14.2" fill="#9d104a" shape-rendering="crispEdges"/>
<rect x="356.2" y="407.66" width="43.87" height="14.2" fill="#f2fbbb" shape-rendering="crispEdges"/>
<rect x="356.2" y="393.47" width="46.06" height="14.2" fill="#6456a1" shape-rendering="crispEdges"/>
<rect x="356.2" y="374.54" width="47.16" height="14.2" fill="#9d104a" shape-rendering="crispEdges"/>
<rect x="356.2" y="360.34" width="40.58" height="14.2" fill="#f2fbbb" shape-rendering="crispEdges"/>
<rect x="356.2" y="346.15" width="35.09" height="14.2" fill="#6456a1" shape-rendering="crispEdges"/>
<rect x="356.2" y="327.22" width="39.48" height="14.2" fill="#9d104a" shape-rendering="crispEdges"/>
<rect x="356.2" y="313.02" width="49.35" height="14.2" fill="#f2fbbb" shape-rendering="crispEdges"/>
<rect x="356.2" y="298.83" width="35.09" height="14.2" fill="#6456a1" shape-rendering="crispEdges"/>
<line x1="422" y1="299.9" x2="422" y2="305.2" stroke="#e2424f" stroke-width="1.7"/>
<line x1="422" y1="310.45" x2="422" y2="315.75" stroke="#e2424f" stroke-width="1.7"/>
<line x1="422" y1="321" x2="422" y2="326.3" stroke="#e2424f" stroke-width="1.7"/>
<line x1="422" y1="331.55" x2="422" y2="336.85" stroke="#e2424f" stroke-width="1.7"/>
<line x1="422" y1="342.1" x2="422" y2="347.4" stroke="#e2424f" stroke-width="1.7"/>
<line x1="422" y1="352.65" x2="422" y2="357.95" stroke="#e2424f" stroke-width="1.7"/>
<line x1="422" y1="363.2" x2="422" y2="368.5" stroke="#e2424f" stroke-width="1.7"/>
<line x1="422" y1="373.75" x2="422" y2="379.05" stroke="#e2424f" stroke-width="1.7"/>
<line x1="422" y1="384.3" x2="422" y2="389.6" stroke="#e2424f" stroke-width="1.7"/>
<line x1="422" y1="394.85" x2="422" y2="400.15" stroke="#e2424f" stroke-width="1.7"/>
<line x1="422" y1="405.4" x2="422" y2="410.7" stroke="#e2424f" stroke-width="1.7"/>
<line x1="422" y1="415.95" x2="422" y2="421.25" stroke="#e2424f" stroke-width="1.7"/>
<line x1="422" y1="426.5" x2="422" y2="431.8" stroke="#e2424f" stroke-width="1.7"/>
<line x1="422" y1="437.05" x2="422" y2="442.35" stroke="#e2424f" stroke-width="1.7"/>
<line x1="422" y1="447.6" x2="422" y2="452.9" stroke="#e2424f" stroke-width="1.7"/>
<line x1="422" y1="458.15" x2="422" y2="463.45" stroke="#e2424f" stroke-width="1.7"/>
<line x1="422" y1="468.7" x2="422" y2="474" stroke="#e2424f" stroke-width="1.7"/>
<line x1="422" y1="479.25" x2="422" y2="484.55" stroke="#e2424f" stroke-width="1.7"/>
<line x1="422" y1="489.8" x2="422" y2="492.6" stroke="#e2424f" stroke-width="1.7"/>
<rect x="472.8" y="479.11" width="28.6" height="4.26" fill="#9d104a" shape-rendering="crispEdges"/>
<rect x="472.8" y="474.86" width="19.8" height="4.26" fill="#d14b55" shape-rendering="crispEdges"/>
<rect x="472.8" y="470.6" width="26.4" height="4.26" fill="#ec7d51" shape-rendering="crispEdges"/>
<rect x="472.8" y="466.34" width="22" height="4.26" fill="#f3bb73" shape-rendering="crispEdges"/>
<rect x="472.8" y="462.08" width="33" height="4.26" fill="#f4e4a0" shape-rendering="crispEdges"/>
<rect x="472.8" y="457.82" width="8.8" height="4.26" fill="#e8efa7" shape-rendering="crispEdges"/>
<rect x="472.8" y="453.56" width="28.6" height="4.26" fill="#bbdd9f" shape-rendering="crispEdges"/>
<rect x="472.8" y="449.3" width="33" height="4.26" fill="#77c2a4" shape-rendering="crispEdges"/>
<rect x="472.8" y="445.04" width="17.6" height="4.26" fill="#408fb7" shape-rendering="crispEdges"/>
<rect x="472.8" y="440.79" width="30.8" height="4.26" fill="#6456a1" shape-rendering="crispEdges"/>
<rect x="472.8" y="431.79" width="35.2" height="4.26" fill="#9d104a" shape-rendering="crispEdges"/>
<rect x="472.8" y="427.54" width="35.2" height="4.26" fill="#d14b55" shape-rendering="crispEdges"/>
<rect x="472.8" y="423.28" width="4.4" height="4.26" fill="#ec7d51" shape-rendering="crispEdges"/>
<rect x="472.8" y="419.02" width="41.8" height="4.26" fill="#f3bb73" shape-rendering="crispEdges"/>
<rect x="472.8" y="414.76" width="26.4" height="4.26" fill="#f4e4a0" shape-rendering="crispEdges"/>
<rect x="472.8" y="410.5" width="11" height="4.26" fill="#e8efa7" shape-rendering="crispEdges"/>
<rect x="472.8" y="406.24" width="33" height="4.26" fill="#bbdd9f" shape-rendering="crispEdges"/>
<rect x="472.8" y="401.98" width="30.8" height="4.26" fill="#77c2a4" shape-rendering="crispEdges"/>
<rect x="472.8" y="397.72" width="17.6" height="4.26" fill="#408fb7" shape-rendering="crispEdges"/>
<rect x="472.8" y="393.47" width="11" height="4.26" fill="#6456a1" shape-rendering="crispEdges"/>
<rect x="472.8" y="384.48" width="24.2" height="4.26" fill="#9d104a" shape-rendering="crispEdges"/>
<rect x="472.8" y="380.22" width="26.4" height="4.26" fill="#d14b55" shape-rendering="crispEdges"/>
<rect x="472.8" y="375.96" width="11" height="4.26" fill="#ec7d51" shape-rendering="crispEdges"/>
<rect x="472.8" y="371.7" width="28.6" height="4.26" fill="#f3bb73" shape-rendering="crispEdges"/>
<rect x="472.8" y="367.44" width="15.4" height="4.26" fill="#f4e4a0" shape-rendering="crispEdges"/>
<rect x="472.8" y="363.18" width="15.4" height="4.26" fill="#e8efa7" shape-rendering="crispEdges"/>
<rect x="472.8" y="358.92" width="28.6" height="4.26" fill="#bbdd9f" shape-rendering="crispEdges"/>
<rect x="472.8" y="354.66" width="28.6" height="4.26" fill="#77c2a4" shape-rendering="crispEdges"/>
<rect x="472.8" y="350.41" width="24.2" height="4.26" fill="#408fb7" shape-rendering="crispEdges"/>
<rect x="472.8" y="346.15" width="44" height="4.26" fill="#6456a1" shape-rendering="crispEdges"/>
<rect x="472.8" y="337.16" width="11" height="4.26" fill="#9d104a" shape-rendering="crispEdges"/>
<rect x="472.8" y="332.9" width="17.6" height="4.26" fill="#d14b55" shape-rendering="crispEdges"/>
<rect x="472.8" y="328.64" width="57.2" height="4.26" fill="#ec7d51" shape-rendering="crispEdges"/>
<rect x="472.8" y="324.38" width="6.6" height="4.26" fill="#f3bb73" shape-rendering="crispEdges"/>
<rect x="472.8" y="320.12" width="24.2" height="4.26" fill="#f4e4a0" shape-rendering="crispEdges"/>
<rect x="472.8" y="315.86" width="63.8" height="4.26" fill="#e8efa7" shape-rendering="crispEdges"/>
<rect x="472.8" y="311.6" width="8.8" height="4.26" fill="#bbdd9f" shape-rendering="crispEdges"/>
<rect x="472.8" y="307.34" width="6.6" height="4.26" fill="#77c2a4" shape-rendering="crispEdges"/>
<rect x="472.8" y="303.09" width="39.6" height="4.26" fill="#408fb7" shape-rendering="crispEdges"/>
<rect x="472.8" y="298.83" width="13.2" height="4.26" fill="#6456a1" shape-rendering="crispEdges"/>
<line x1="516.8" y1="289.6" x2="516.8" y2="294.65" stroke="#e2424f" stroke-width="1.7"/>
<line x1="516.8" y1="299.9" x2="516.8" y2="305.2" stroke="#e2424f" stroke-width="1.7"/>
<line x1="516.8" y1="310.45" x2="516.8" y2="315.75" stroke="#e2424f" stroke-width="1.7"/>
<line x1="516.8" y1="321" x2="516.8" y2="326.3" stroke="#e2424f" stroke-width="1.7"/>
<line x1="516.8" y1="331.55" x2="516.8" y2="336.85" stroke="#e2424f" stroke-width="1.7"/>
<line x1="516.8" y1="342.1" x2="516.8" y2="347.4" stroke="#e2424f" stroke-width="1.7"/>
<line x1="516.8" y1="352.65" x2="516.8" y2="357.95" stroke="#e2424f" stroke-width="1.7"/>
<line x1="516.8" y1="363.2" x2="516.8" y2="368.5" stroke="#e2424f" stroke-width="1.7"/>
<line x1="516.8" y1="373.75" x2="516.8" y2="379.05" stroke="#e2424f" stroke-width="1.7"/>
<line x1="516.8" y1="384.3" x2="516.8" y2="389.6" stroke="#e2424f" stroke-width="1.7"/>
<line x1="516.8" y1="394.85" x2="516.8" y2="400.15" stroke="#e2424f" stroke-width="1.7"/>
<line x1="516.8" y1="405.4" x2="516.8" y2="410.7" stroke="#e2424f" stroke-width="1.7"/>
<line x1="516.8" y1="415.95" x2="516.8" y2="421.25" stroke="#e2424f" stroke-width="1.7"/>
<line x1="516.8" y1="426.5" x2="516.8" y2="431.8" stroke="#e2424f" stroke-width="1.7"/>
<line x1="516.8" y1="437.05" x2="516.8" y2="442.35" stroke="#e2424f" stroke-width="1.7"/>
<line x1="516.8" y1="447.6" x2="516.8" y2="452.9" stroke="#e2424f" stroke-width="1.7"/>
<line x1="516.8" y1="458.15" x2="516.8" y2="463.45" stroke="#e2424f" stroke-width="1.7"/>
<line x1="516.8" y1="468.7" x2="516.8" y2="474" stroke="#e2424f" stroke-width="1.7"/>
<line x1="516.8" y1="479.25" x2="516.8" y2="484.55" stroke="#e2424f" stroke-width="1.7"/>
<line x1="516.8" y1="489.8" x2="516.8" y2="492.6" stroke="#e2424f" stroke-width="1.7"/>
<rect x="589.7" y="480.53" width="8.79" height="2.84" fill="#9d104a" shape-rendering="crispEdges"/>
<rect x="589.7" y="477.69" width="5.27" height="2.84" fill="#c03752" shape-rendering="crispEdges"/>
<rect x="589.7" y="472.02" width="8.79" height="2.84" fill="#ec784f" shape-rendering="crispEdges"/>
<rect x="589.7" y="466.34" width="7.03" height="2.84" fill="#f4c57c" shape-rendering="crispEdges"/>
<rect x="589.7" y="463.5" width="28.12" height="2.84" fill="#f4e199" shape-rendering="crispEdges"/>
<rect x="589.7" y="454.98" width="5.27" height="2.84" fill="#c8e29c" shape-rendering="crispEdges"/>
<rect x="589.7" y="452.14" width="28.12" height="2.84" fill="#a1d2a3" shape-rendering="crispEdges"/>
<rect x="589.7" y="449.3" width="45.7" height="2.84" fill="#72c0a4" shape-rendering="crispEdges"/>
<rect x="589.7" y="446.46" width="5.27" height="2.84" fill="#4f9fb0" shape-rendering="crispEdges"/>
<rect x="589.7" y="443.62" width="42.18" height="2.84" fill="#487ab2" shape-rendering="crispEdges"/>
<rect x="589.7" y="440.79" width="14.06" height="2.84" fill="#6456a1" shape-rendering="crispEdges"/>
<rect x="589.7" y="433.21" width="29.88" height="2.84" fill="#9d104a" shape-rendering="crispEdges"/>
<rect x="589.7" y="430.38" width="19.33" height="2.84" fill="#c03752" shape-rendering="crispEdges"/>
<rect x="589.7" y="427.54" width="1.76" height="2.84" fill="#da5852" shape-rendering="crispEdges"/>
<rect x="589.7" y="424.7" width="24.61" height="2.84" fill="#ec784f" shape-rendering="crispEdges"/>
<rect x="589.7" y="421.86" width="1.76" height="2.84" fill="#f2a463" shape-rendering="crispEdges"/>
<rect x="589.7" y="419.02" width="26.36" height="2.84" fill="#f4c57c" shape-rendering="crispEdges"/>
<rect x="589.7" y="416.18" width="17.58" height="2.84" fill="#f4e199" shape-rendering="crispEdges"/>
<rect x="589.7" y="413.34" width="10.54" height="2.84" fill="#f4f4ba" shape-rendering="crispEdges"/>
<rect x="589.7" y="410.5" width="3.51" height="2.84" fill="#e4eea2" shape-rendering="crispEdges"/>
<rect x="589.7" y="407.66" width="24.61" height="2.84" fill="#c8e29c" shape-rendering="crispEdges"/>
<rect x="589.7" y="404.82" width="10.54" height="2.84" fill="#a1d2a3" shape-rendering="crispEdges"/>
<rect x="589.7" y="399.14" width="10.54" height="2.84" fill="#4f9fb0" shape-rendering="crispEdges"/>
<rect x="589.7" y="393.47" width="15.82" height="2.84" fill="#6456a1" shape-rendering="crispEdges"/>
<rect x="589.7" y="385.89" width="3.51" height="2.84" fill="#9d104a" shape-rendering="crispEdges"/>
<rect x="589.7" y="383.06" width="14.06" height="2.84" fill="#c03752" shape-rendering="crispEdges"/>
<rect x="589.7" y="380.22" width="3.51" height="2.84" fill="#da5852" shape-rendering="crispEdges"/>
<rect x="589.7" y="377.38" width="8.79" height="2.84" fill="#ec784f" shape-rendering="crispEdges"/>
<rect x="589.7" y="374.54" width="35.15" height="2.84" fill="#f2a463" shape-rendering="crispEdges"/>
<rect x="589.7" y="371.7" width="10.54" height="2.84" fill="#f4c57c" shape-rendering="crispEdges"/>
<rect x="589.7" y="368.86" width="1.76" height="2.84" fill="#f4e199" shape-rendering="crispEdges"/>
<rect x="589.7" y="366.02" width="15.82" height="2.84" fill="#f4f4ba" shape-rendering="crispEdges"/>
<rect x="589.7" y="363.18" width="36.91" height="2.84" fill="#e4eea2" shape-rendering="crispEdges"/>
<rect x="589.7" y="360.34" width="15.82" height="2.84" fill="#c8e29c" shape-rendering="crispEdges"/>
<rect x="589.7" y="357.5" width="7.03" height="2.84" fill="#a1d2a3" shape-rendering="crispEdges"/>
<rect x="589.7" y="354.66" width="3.51" height="2.84" fill="#72c0a4" shape-rendering="crispEdges"/>
<rect x="589.7" y="351.82" width="29.88" height="2.84" fill="#4f9fb0" shape-rendering="crispEdges"/>
<rect x="589.7" y="346.15" width="10.54" height="2.84" fill="#6456a1" shape-rendering="crispEdges"/>
<rect x="589.7" y="338.58" width="10.54" height="2.84" fill="#9d104a" shape-rendering="crispEdges"/>
<rect x="589.7" y="335.74" width="14.06" height="2.84" fill="#c03752" shape-rendering="crispEdges"/>
<rect x="589.7" y="332.9" width="47.45" height="2.84" fill="#da5852" shape-rendering="crispEdges"/>
<rect x="589.7" y="330.06" width="10.54" height="2.84" fill="#ec784f" shape-rendering="crispEdges"/>
<rect x="589.7" y="327.22" width="15.82" height="2.84" fill="#f2a463" shape-rendering="crispEdges"/>
<rect x="589.7" y="324.38" width="8.79" height="2.84" fill="#f4c57c" shape-rendering="crispEdges"/>
<rect x="589.7" y="321.54" width="5.27" height="2.84" fill="#f4e199" shape-rendering="crispEdges"/>
<rect x="589.7" y="318.7" width="26.36" height="2.84" fill="#f4f4ba" shape-rendering="crispEdges"/>
<rect x="589.7" y="315.86" width="12.3" height="2.84" fill="#e4eea2" shape-rendering="crispEdges"/>
<rect x="589.7" y="313.02" width="7.03" height="2.84" fill="#c8e29c" shape-rendering="crispEdges"/>
<rect x="589.7" y="310.18" width="7.03" height="2.84" fill="#a1d2a3" shape-rendering="crispEdges"/>
<rect x="589.7" y="307.34" width="3.51" height="2.84" fill="#72c0a4" shape-rendering="crispEdges"/>
<rect x="589.7" y="304.51" width="7.03" height="2.84" fill="#4f9fb0" shape-rendering="crispEdges"/>
<rect x="589.7" y="301.67" width="10.54" height="2.84" fill="#487ab2" shape-rendering="crispEdges"/>
<rect x="589.7" y="298.83" width="12.3" height="2.84" fill="#6456a1" shape-rendering="crispEdges"/>
<line x1="624.85" y1="289.6" x2="624.85" y2="294.65" stroke="#e2424f" stroke-width="1.7"/>
<line x1="624.85" y1="299.9" x2="624.85" y2="305.2" stroke="#e2424f" stroke-width="1.7"/>
<line x1="624.85" y1="310.45" x2="624.85" y2="315.75" stroke="#e2424f" stroke-width="1.7"/>
<line x1="624.85" y1="321" x2="624.85" y2="326.3" stroke="#e2424f" stroke-width="1.7"/>
<line x1="624.85" y1="331.55" x2="624.85" y2="336.85" stroke="#e2424f" stroke-width="1.7"/>
<line x1="624.85" y1="342.1" x2="624.85" y2="347.4" stroke="#e2424f" stroke-width="1.7"/>
<line x1="624.85" y1="352.65" x2="624.85" y2="357.95" stroke="#e2424f" stroke-width="1.7"/>
<line x1="624.85" y1="363.2" x2="624.85" y2="368.5" stroke="#e2424f" stroke-width="1.7"/>
<line x1="624.85" y1="373.75" x2="624.85" y2="379.05" stroke="#e2424f" stroke-width="1.7"/>
<line x1="624.85" y1="384.3" x2="624.85" y2="389.6" stroke="#e2424f" stroke-width="1.7"/>
<line x1="624.85" y1="394.85" x2="624.85" y2="400.15" stroke="#e2424f" stroke-width="1.7"/>
<line x1="624.85" y1="405.4" x2="624.85" y2="410.7" stroke="#e2424f" stroke-width="1.7"/>
<line x1="624.85" y1="415.95" x2="624.85" y2="421.25" stroke="#e2424f" stroke-width="1.7"/>
<line x1="624.85" y1="426.5" x2="624.85" y2="431.8" stroke="#e2424f" stroke-width="1.7"/>
<line x1="624.85" y1="437.05" x2="624.85" y2="442.35" stroke="#e2424f" stroke-width="1.7"/>
<line x1="624.85" y1="447.6" x2="624.85" y2="452.9" stroke="#e2424f" stroke-width="1.7"/>
<line x1="624.85" y1="458.15" x2="624.85" y2="463.45" stroke="#e2424f" stroke-width="1.7"/>
<line x1="624.85" y1="468.7" x2="624.85" y2="474" stroke="#e2424f" stroke-width="1.7"/>
<line x1="624.85" y1="479.25" x2="624.85" y2="484.55" stroke="#e2424f" stroke-width="1.7"/>
<line x1="624.85" y1="489.8" x2="624.85" y2="492.6" stroke="#e2424f" stroke-width="1.7"/>
<rect x="404.6" y="291.8" width="37" height="30.5" rx="2" fill="#fff" fill-opacity="1" stroke="#d4d4d4" stroke-width="0.8"/>
<rect x="407.4" y="295.05" width="13.7" height="4.7" fill="#9d104a"/>
<text x="424.8" y="300.3" font-size="8.4" text-anchor="start" fill="#000">kag</text>
<rect x="407.4" y="304.95" width="13.7" height="4.7" fill="#f2fbbb"/>
<text x="424.8" y="310.2" font-size="8.4" text-anchor="start" fill="#000">lcy</text>
<rect x="407.4" y="314.85" width="13.7" height="4.7" fill="#6456a1"/>
<text x="424.8" y="320.1" font-size="8.4" text-anchor="start" fill="#000">pcu</text>
<rect x="517.3" y="389.4" width="41.3" height="100.8" rx="2" fill="#fff" fill-opacity="0.55" stroke="#d4d4d4" stroke-width="0.8"/>
<rect x="519.4" y="392.85" width="13.6" height="4.5" fill="#9d104a"/>
<text x="536.4" y="398" font-size="8.4" text-anchor="start" fill="#000">N106</text>
<rect x="519.4" y="402.73" width="13.6" height="4.5" fill="#d14b55"/>
<text x="536.4" y="407.88" font-size="8.4" text-anchor="start" fill="#000">N123</text>
<rect x="519.4" y="412.61" width="13.6" height="4.5" fill="#ec7d51"/>
<text x="536.4" y="417.76" font-size="8.4" text-anchor="start" fill="#000">N139</text>
<rect x="519.4" y="422.49" width="13.6" height="4.5" fill="#f3bb73"/>
<text x="536.4" y="427.64" font-size="8.4" text-anchor="start" fill="#000">N144</text>
<rect x="519.4" y="432.37" width="13.6" height="4.5" fill="#f4e4a0"/>
<text x="536.4" y="437.52" font-size="8.4" text-anchor="start" fill="#000">N155</text>
<rect x="519.4" y="442.25" width="13.6" height="4.5" fill="#e8efa7"/>
<text x="536.4" y="447.4" font-size="8.4" text-anchor="start" fill="#000">N173</text>
<rect x="519.4" y="452.13" width="13.6" height="4.5" fill="#bbdd9f"/>
<text x="536.4" y="457.28" font-size="8.4" text-anchor="start" fill="#000">N205</text>
<rect x="519.4" y="462.01" width="13.6" height="4.5" fill="#77c2a4"/>
<text x="536.4" y="467.16" font-size="8.4" text-anchor="start" fill="#000">N248</text>
<rect x="519.4" y="471.89" width="13.6" height="4.5" fill="#408fb7"/>
<text x="536.4" y="477.04" font-size="8.4" text-anchor="start" fill="#000">N394</text>
<rect x="519.4" y="481.77" width="13.6" height="4.5" fill="#6456a1"/>
<text x="536.4" y="486.92" font-size="8.4" text-anchor="start" fill="#000">N505</text>
<rect x="634.5" y="291.3" width="40.8" height="150.1" rx="2" fill="#fff" fill-opacity="0.55" stroke="#d4d4d4" stroke-width="0.8"/>
<rect x="636.8" y="294.4" width="13.3" height="4.3" fill="#9d104a"/>
<text x="653.4" y="299.45" font-size="8.4" text-anchor="start" fill="#000">E1</text>
<rect x="636.8" y="304.3" width="13.3" height="4.3" fill="#c03752"/>
<text x="653.4" y="309.35" font-size="8.4" text-anchor="start" fill="#000">E8</text>
<rect x="636.8" y="314.2" width="13.3" height="4.3" fill="#da5852"/>
<text x="653.4" y="319.25" font-size="8.4" text-anchor="start" fill="#000">E9</text>
<rect x="636.8" y="324.1" width="13.3" height="4.3" fill="#ec784f"/>
<text x="653.4" y="329.15" font-size="8.4" text-anchor="start" fill="#000">E14</text>
<rect x="636.8" y="334" width="13.3" height="4.3" fill="#f2a463"/>
<text x="653.4" y="339.05" font-size="8.4" text-anchor="start" fill="#000">E15</text>
<rect x="636.8" y="343.9" width="13.3" height="4.3" fill="#f4c57c"/>
<text x="653.4" y="348.95" font-size="8.4" text-anchor="start" fill="#000">E28</text>
<rect x="636.8" y="353.8" width="13.3" height="4.3" fill="#f4e199"/>
<text x="653.4" y="358.85" font-size="8.4" text-anchor="start" fill="#000">E35</text>
<rect x="636.8" y="363.7" width="13.3" height="4.3" fill="#f4f4ba"/>
<text x="653.4" y="368.75" font-size="8.4" text-anchor="start" fill="#000">E59</text>
<rect x="636.8" y="373.6" width="13.3" height="4.3" fill="#e4eea2"/>
<text x="653.4" y="378.65" font-size="8.4" text-anchor="start" fill="#000">E70</text>
<rect x="636.8" y="383.5" width="13.3" height="4.3" fill="#c8e29c"/>
<text x="653.4" y="388.55" font-size="8.4" text-anchor="start" fill="#000">E161</text>
<rect x="636.8" y="393.4" width="13.3" height="4.3" fill="#a1d2a3"/>
<text x="653.4" y="398.45" font-size="8.4" text-anchor="start" fill="#000">E183</text>
<rect x="636.8" y="403.3" width="13.3" height="4.3" fill="#72c0a4"/>
<text x="653.4" y="408.35" font-size="8.4" text-anchor="start" fill="#000">E191</text>
<rect x="636.8" y="413.2" width="13.3" height="4.3" fill="#4f9fb0"/>
<text x="653.4" y="418.25" font-size="8.4" text-anchor="start" fill="#000">E220</text>
<rect x="636.8" y="423.1" width="13.3" height="4.3" fill="#487ab2"/>
<text x="653.4" y="428.15" font-size="8.4" text-anchor="start" fill="#000">E225</text>
<rect x="636.8" y="433" width="13.3" height="4.3" fill="#6456a1"/>
<text x="653.4" y="438.05" font-size="8.4" text-anchor="start" fill="#000">E229</text>
<rect x="356.2" y="289.6" width="88.3" height="203" fill="none" stroke="#242424" stroke-width="1.3"/>
<line x1="356.2" y1="492.6" x2="356.2" y2="496.1" stroke="#242424" stroke-width="1.2"/>
<text x="356.2" y="507.2" font-size="12.5" text-anchor="middle" fill="#000">0</text>
<line x1="372.65" y1="492.6" x2="372.65" y2="496.1" stroke="#242424" stroke-width="1.2"/>
<text x="372.65" y="507.2" font-size="12.5" text-anchor="middle" fill="#000">15</text>
<line x1="389.1" y1="492.6" x2="389.1" y2="496.1" stroke="#242424" stroke-width="1.2"/>
<text x="389.1" y="507.2" font-size="12.5" text-anchor="middle" fill="#000">30</text>
<line x1="405.55" y1="492.6" x2="405.55" y2="496.1" stroke="#242424" stroke-width="1.2"/>
<text x="405.55" y="507.2" font-size="12.5" text-anchor="middle" fill="#000">45</text>
<line x1="422" y1="492.6" x2="422" y2="496.1" stroke="#242424" stroke-width="1.2"/>
<text x="422" y="507.2" font-size="12.5" text-anchor="middle" fill="#000">60</text>
<line x1="438.45" y1="492.6" x2="438.45" y2="496.1" stroke="#242424" stroke-width="1.2"/>
<text x="438.45" y="507.2" font-size="12.5" text-anchor="middle" fill="#000">75</text>
<line x1="352.7" y1="462.08" x2="356.2" y2="462.08" stroke="#242424" stroke-width="1.2"/>
<text x="351.3" y="465.98" font-size="12.5" text-anchor="end" fill="#000">00</text>
<line x1="352.7" y1="414.76" x2="356.2" y2="414.76" stroke="#242424" stroke-width="1.2"/>
<text x="351.3" y="418.66" font-size="12.5" text-anchor="end" fill="#000">01</text>
<line x1="352.7" y1="367.44" x2="356.2" y2="367.44" stroke="#242424" stroke-width="1.2"/>
<text x="351.3" y="371.34" font-size="12.5" text-anchor="end" fill="#000">10</text>
<line x1="352.7" y1="320.12" x2="356.2" y2="320.12" stroke="#242424" stroke-width="1.2"/>
<text x="351.3" y="324.02" font-size="12.5" text-anchor="end" fill="#000">11</text>
<rect x="472.8" y="289.6" width="88" height="203" fill="none" stroke="#242424" stroke-width="1.3"/>
<line x1="472.8" y1="492.6" x2="472.8" y2="496.1" stroke="#242424" stroke-width="1.2"/>
<text x="472.8" y="507.2" font-size="12.5" text-anchor="middle" fill="#000">0</text>
<line x1="494.8" y1="492.6" x2="494.8" y2="496.1" stroke="#242424" stroke-width="1.2"/>
<text x="494.8" y="507.2" font-size="12.5" text-anchor="middle" fill="#000">10</text>
<line x1="516.8" y1="492.6" x2="516.8" y2="496.1" stroke="#242424" stroke-width="1.2"/>
<text x="516.8" y="507.2" font-size="12.5" text-anchor="middle" fill="#000">20</text>
<line x1="538.8" y1="492.6" x2="538.8" y2="496.1" stroke="#242424" stroke-width="1.2"/>
<text x="538.8" y="507.2" font-size="12.5" text-anchor="middle" fill="#000">30</text>
<line x1="560.8" y1="492.6" x2="560.8" y2="496.1" stroke="#242424" stroke-width="1.2"/>
<text x="560.8" y="507.2" font-size="12.5" text-anchor="middle" fill="#000">40</text>
<line x1="469.3" y1="462.08" x2="472.8" y2="462.08" stroke="#242424" stroke-width="1.2"/>
<text x="467.9" y="465.98" font-size="12.5" text-anchor="end" fill="#000">00</text>
<line x1="469.3" y1="414.76" x2="472.8" y2="414.76" stroke="#242424" stroke-width="1.2"/>
<text x="467.9" y="418.66" font-size="12.5" text-anchor="end" fill="#000">01</text>
<line x1="469.3" y1="367.44" x2="472.8" y2="367.44" stroke="#242424" stroke-width="1.2"/>
<text x="467.9" y="371.34" font-size="12.5" text-anchor="end" fill="#000">10</text>
<line x1="469.3" y1="320.12" x2="472.8" y2="320.12" stroke="#242424" stroke-width="1.2"/>
<text x="467.9" y="324.02" font-size="12.5" text-anchor="end" fill="#000">11</text>
<rect x="589.7" y="289.6" width="87.9" height="203" fill="none" stroke="#242424" stroke-width="1.3"/>
<line x1="589.7" y1="492.6" x2="589.7" y2="496.1" stroke="#242424" stroke-width="1.2"/>
<text x="589.7" y="507.2" font-size="12.5" text-anchor="middle" fill="#000">0</text>
<line x1="607.28" y1="492.6" x2="607.28" y2="496.1" stroke="#242424" stroke-width="1.2"/>
<text x="607.28" y="507.2" font-size="12.5" text-anchor="middle" fill="#000">10</text>
<line x1="624.85" y1="492.6" x2="624.85" y2="496.1" stroke="#242424" stroke-width="1.2"/>
<text x="624.85" y="507.2" font-size="12.5" text-anchor="middle" fill="#000">20</text>
<line x1="642.43" y1="492.6" x2="642.43" y2="496.1" stroke="#242424" stroke-width="1.2"/>
<text x="642.43" y="507.2" font-size="12.5" text-anchor="middle" fill="#000">30</text>
<line x1="660" y1="492.6" x2="660" y2="496.1" stroke="#242424" stroke-width="1.2"/>
<text x="660" y="507.2" font-size="12.5" text-anchor="middle" fill="#000">40</text>
<line x1="677.58" y1="492.6" x2="677.58" y2="496.1" stroke="#242424" stroke-width="1.2"/>
<text x="677.58" y="507.2" font-size="12.5" text-anchor="middle" fill="#000">50</text>
<line x1="586.2" y1="462.08" x2="589.7" y2="462.08" stroke="#242424" stroke-width="1.2"/>
<text x="584.8" y="465.98" font-size="12.5" text-anchor="end" fill="#000">00</text>
<line x1="586.2" y1="414.76" x2="589.7" y2="414.76" stroke="#242424" stroke-width="1.2"/>
<text x="584.8" y="418.66" font-size="12.5" text-anchor="end" fill="#000">01</text>
<line x1="586.2" y1="367.44" x2="589.7" y2="367.44" stroke="#242424" stroke-width="1.2"/>
<text x="584.8" y="371.34" font-size="12.5" text-anchor="end" fill="#000">10</text>
<line x1="586.2" y1="320.12" x2="589.7" y2="320.12" stroke="#242424" stroke-width="1.2"/>
<text x="584.8" y="324.02" font-size="12.5" text-anchor="end" fill="#000">11</text>
<text x="401.65" y="284.9" font-size="12.5" text-anchor="middle" fill="#000">Topology</text>
<text x="519.5" y="284.9" font-size="12.5" text-anchor="middle" fill="#000">Node</text>
<text x="637.1" y="284.9" font-size="12.5" text-anchor="middle" fill="#000">Edge</text>
<text x="517.8" y="523.7" font-size="15.8" text-anchor="middle" fill="#000">Counts</text>
<text transform="translate(333.0,391.2) rotate(-90)" font-size="15.8" text-anchor="middle" fill="#000">Labels</text>
<text x="321.5" y="281.7" font-size="20" text-anchor="start" fill="#000">(d)</text>
</svg>
</body></html>
